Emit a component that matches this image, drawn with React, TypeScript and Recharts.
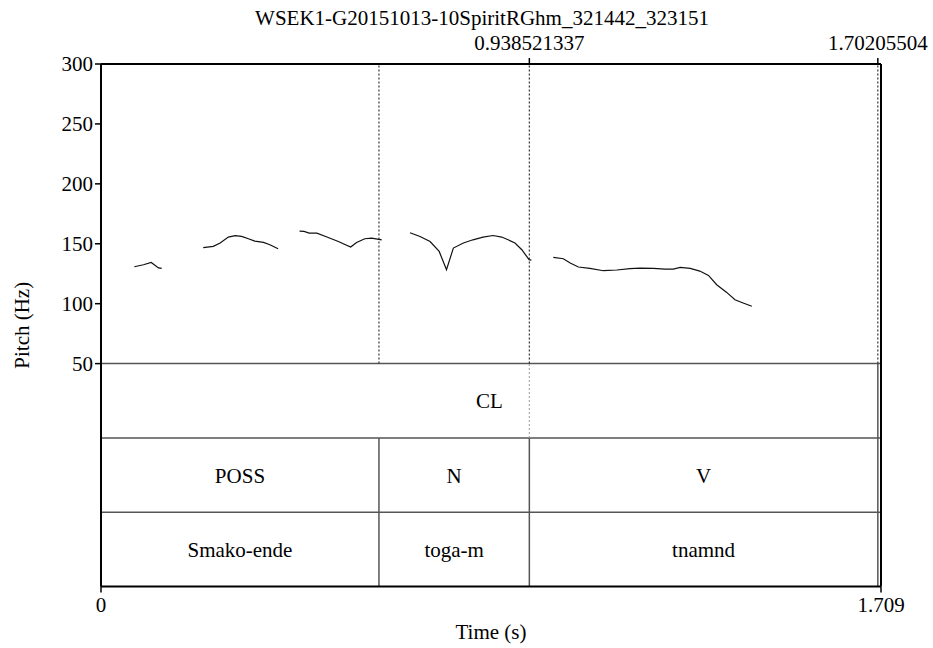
import { LineChart, Line, XAxis, YAxis, ReferenceLine, ReferenceArea, Label } from 'recharts'

const TITLE = 'WSEK1-G20151013-10SpiritRGhm_321442_323151'
const FONT = '"Liberation Serif", "Times New Roman", Times, serif'

// axes
const timeTicks = [0, 1.709]
const markTicks = [0.938521337, 1.70205504]
const pitchTicks = [50, 100, 150, 200, 250, 300]

// tiers: each row below the pitch area takes the same height (in Hz units)
const TIER_ROW = 62
const PITCH_MIN = 50
const PITCH_MAX = 300
const Y_BOTTOM = PITCH_MIN - 3 * TIER_ROW

const boundaries = [0, 0.609, 0.938521337, 1.70205504]
const clLabels = ['CL']
const posLabels = ['POSS', 'N', 'V']
const wordLabels = ['Smako-ende', 'toga-m', 'tnamnd']

// pitch contour pieces (time s, pitch Hz)
const seg1Time = [0.073, 0.093, 0.11, 0.126, 0.133]
const seg1Pitch = [130.8, 132.5, 134.4, 129.8, 129.4]
const seg2Time = [0.224, 0.246, 0.261, 0.279, 0.294, 0.308, 0.323, 0.337, 0.356, 0.37, 0.388]
const seg2Pitch = [146.7, 147.8, 150.6, 155.6, 156.7, 156.1, 154.2, 152.2, 151.1, 149.2, 145.8]
const seg3Time = [0.435, 0.445, 0.456, 0.473, 0.495, 0.52, 0.547, 0.56, 0.578, 0.593, 0.615]
const seg3Pitch = [160.6, 160.3, 158.9, 158.9, 155.6, 151.9, 147.3, 151.1, 154.2, 154.7, 153.3]
const seg4Time = [0.677, 0.699, 0.721, 0.741, 0.757, 0.772, 0.794, 0.815, 0.837, 0.859, 0.878, 0.892, 0.907, 0.922, 0.938, 0.943]
const seg4Pitch = [159.2, 156.1, 151.9, 143.6, 128.3, 146.4, 150.6, 153.3, 155.6, 156.9, 155.6, 153.3, 150.6, 145.0, 136.7, 136.4]
const seg5Time = [0.991, 1.013, 1.028, 1.046, 1.071, 1.101, 1.13, 1.159, 1.181, 1.21, 1.236, 1.254, 1.269, 1.291, 1.312, 1.331, 1.349, 1.371, 1.389, 1.407, 1.426]
const seg5Pitch = [138.6, 137.5, 133.9, 130.6, 129.4, 127.5, 128.1, 129.2, 129.7, 129.4, 128.9, 128.9, 130.3, 129.4, 127.2, 123.6, 115.8, 109.4, 103.3, 100.6, 97.8]

const segments = [
  [seg1Time, seg1Pitch],
  [seg2Time, seg2Pitch],
  [seg3Time, seg3Pitch],
  [seg4Time, seg4Pitch],
  [seg5Time, seg5Pitch],
].map(([ts, hs]) => ts.map((t, i) => ({ t, hz: hs[i] })))

// invisible series so the top (boundary) axis gets its ticks
const markData = markTicks.map((t) => ({ t, hz: PITCH_MAX }))

const rowTop = (i: number) => PITCH_MIN - i * TIER_ROW
const rowBottom = (i: number) => PITCH_MIN - (i + 1) * TIER_ROW

const textStyle = { fill: '#000', fontSize: 21, fontFamily: FONT, style: { fontFamily: FONT } }

export default function App() {
  const tiers = [
    { labels: clLabels, bounds: [boundaries[0], boundaries[3]] },
    { labels: posLabels, bounds: boundaries },
    { labels: wordLabels, bounds: boundaries },
  ]

  return (
    <div style={{ position: 'absolute', left: 0, top: 0, fontFamily: FONT }}>
      <style>{`.recharts-wrapper svg text { font-family: ${FONT} !important; }`}</style>
      <LineChart width={933} height={648} margin={{ top: 0, right: 52, bottom: 0, left: 0 }}>
        <XAxis
          xAxisId="top"
          orientation="top"
          dataKey="t"
          type="number"
          domain={[0, 1.709]}
          allowDataOverflow
          ticks={markTicks}
          tickFormatter={(v) => String(v)}
          height={64}
          tickSize={6}
          tickMargin={8}
          tick={textStyle}
          interval={0}
          axisLine={{ stroke: '#000', strokeWidth: 2 }}
          tickLine={{ stroke: '#000', strokeWidth: 1.5 }}
        >
          <Label value={TITLE} position="insideTop" offset={10} dx={-9} {...textStyle} />
        </XAxis>
        <XAxis
          dataKey="t"
          type="number"
          domain={[0, 1.709]}
          allowDataOverflow
          ticks={timeTicks}
          tickFormatter={(v) => String(v)}
          height={61.5}
          tickSize={6}
          tickMargin={5}
          tick={textStyle}
          interval={0}
          axisLine={{ stroke: '#000', strokeWidth: 2 }}
          tickLine={{ stroke: '#000', strokeWidth: 1.5 }}
        >
          <Label value="Time (s)" position="insideBottom" offset={9} {...textStyle} />
        </XAxis>
        <YAxis
          type="number"
          domain={[Y_BOTTOM, PITCH_MAX]}
          ticks={pitchTicks}
          allowDataOverflow
          width={101}
          tickSize={6}
          tickMargin={2}
          tick={textStyle}
          interval={0}
          axisLine={{ stroke: '#000', strokeWidth: 2 }}
          tickLine={{ stroke: '#000', strokeWidth: 1.5 }}
        >
          <Label
            value="Pitch (Hz)"
            angle={-90}
            position="insideLeft"
            offset={22}
            {...textStyle}
            style={{ textAnchor: 'middle', fontFamily: FONT }}
          />
        </YAxis>

        {/* tier row separators */}
        {[0, 1, 2].map((i) => (
          <ReferenceLine key={`row-${i}`} y={rowTop(i)} stroke="#555" strokeWidth={1.5} />
        ))}

        {/* dotted boundary lines over the pitch area */}
        {boundaries.map((b) => (
          <ReferenceLine
            key={`dot-${b}`}
            segment={[{ x: b, y: PITCH_MIN }, { x: b, y: PITCH_MAX }]}
            stroke="#333"
            strokeWidth={1.2}
            strokeDasharray="2 2"
          />
        ))}
        <ReferenceLine
          segment={[{ x: markTicks[0], y: rowBottom(0) }, { x: markTicks[0], y: rowTop(0) }]}
          stroke="#aaa"
          strokeWidth={1.2}
          strokeDasharray="2 2"
        />

        {/* tier intervals */}
        {tiers.map((tier, ti) =>
          tier.labels.map((lab, li) => (
            <ReferenceArea
              key={`${ti}-${lab}`}
              x1={tier.bounds[li]}
              x2={tier.bounds[li + 1]}
              y1={rowBottom(ti)}
              y2={rowTop(ti)}
              fill="none"
              fillOpacity={0}
              stroke="none"
            >
              <Label value={lab} position="center" {...textStyle} />
            </ReferenceArea>
          ))
        )}
        {[1, 2].map((ti) =>
          boundaries.map((b) => (
            <ReferenceLine
              key={`tb-${ti}-${b}`}
              segment={[{ x: b, y: rowBottom(ti) }, { x: b, y: rowTop(ti) }]}
              stroke="#555"
              strokeWidth={1.5}
            />
          ))
        )}
        <ReferenceLine
          segment={[{ x: boundaries[3], y: rowBottom(0) }, { x: boundaries[3], y: rowTop(0) }]}
          stroke="#555"
          strokeWidth={1.5}
        />

        {/* right frame */}
        <ReferenceLine x={1.709} stroke="#000" strokeWidth={2} />

        <Line
          xAxisId="top"
          data={markData}
          dataKey="hz"
          stroke="none"
          dot={false}
          activeDot={false}
          legendType="none"
          isAnimationActive={false}
        />

        {segments.map((seg, i) => (
          <Line
            key={`seg-${i}`}
            data={seg}
            dataKey="hz"
            type="linear"
            stroke="#111"
            strokeWidth={1.2}
            dot={false}
            activeDot={false}
            isAnimationActive={false}
          />
        ))}
      </LineChart>
    </div>
  )
}
